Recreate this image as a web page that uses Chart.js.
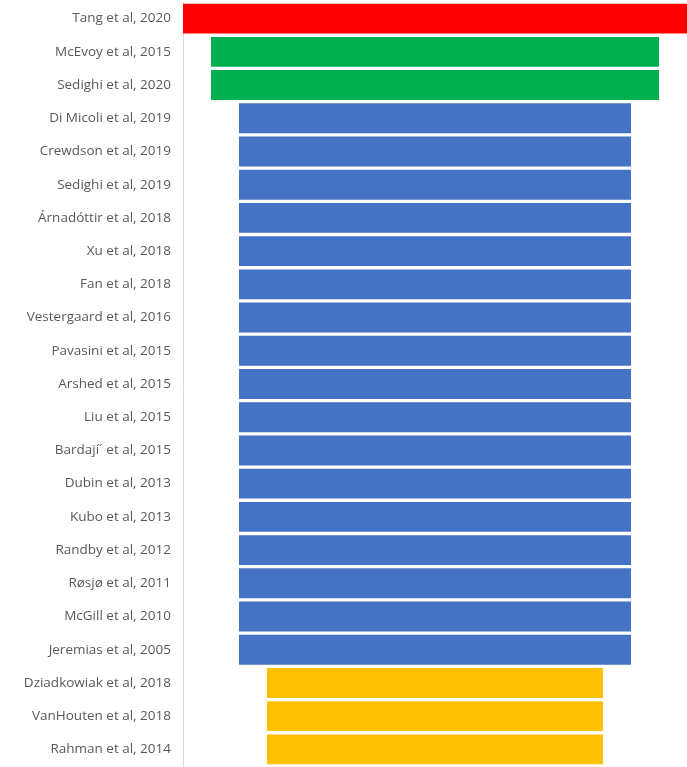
<!DOCTYPE html>
<html>
<head>
<meta charset="utf-8">
<script src="https://cdn.jsdelivr.net/npm/chart.js@4"></script>
<style>
  html, body { margin: 0; padding: 0; background: #ffffff; }
  #wrap { width: 687px; height: 767px; position: relative; }
</style>
</head>
<body>
<div id="wrap"><canvas id="c"></canvas></div>
<script>
const studies = [
  "Tang et al, 2020",
  "McEvoy et al, 2015",
  "Sedighi et al, 2020",
  "Di Micoli et al, 2019",
  "Crewdson et al, 2019",
  "Sedighi et al, 2019",
  "Árnadóttir et al, 2018",
  "Xu et al, 2018",
  "Fan et al, 2018",
  "Vestergaard et al, 2016",
  "Pavasini et al, 2015",
  "Arshed et al, 2015",
  "Liu et al, 2015",
  "Bardají´ et al, 2015",
  "Dubin et al, 2013",
  "Kubo et al, 2013",
  "Randby et al, 2012",
  "Røsjø et al, 2011",
  "McGill et al, 2010",
  "Jeremias et al, 2005",
  "Dziadkowiak et al, 2018",
  "VanHouten et al, 2018",
  "Rahman et al, 2014"
];
const scores = [9, 8, 8, 7, 7, 7, 7, 7, 7, 7, 7, 7, 7, 7, 7, 7, 7, 7, 7, 7, 6, 6, 6];
const scoreColors = { 9: "#FF0000", 8: "#00B050", 7: "#4472C4", 6: "#FFC000" };

const floating = scores.map(v => [-v / 2, v / 2]);

new Chart(document.getElementById("c"), {
  type: "bar",
  data: {
    labels: studies,
    datasets: [{
      data: floating,
      backgroundColor: scores.map(v => scoreColors[v]),
      borderWidth: 0,
      barPercentage: 0.9,
      categoryPercentage: 1.0
    }]
  },
  options: {
    indexAxis: "y",
    responsive: true,
    maintainAspectRatio: false,
    animation: false,
    layout: { padding: { top: 2, bottom: 1, left: 0, right: 0 } },
    plugins: { legend: { display: false }, tooltip: { enabled: false } },
    scales: {
      x: {
        display: false,
        min: -4.5,
        max: 4.5
      },
      y: {
        grid: { display: false },
        border: { display: true, color: "#d9d9d9", width: 1 },
        ticks: {
          color: "#595959",
          padding: 4,
          font: { family: "'Open Sans', sans-serif", size: 13.5 }
        },
        afterFit: (scale) => {
          scale.width = 183;
          scale.paddingTop = 0;
          scale.paddingBottom = 0;
        }
      }
    }
  }
});
</script>
</body>
</html>
